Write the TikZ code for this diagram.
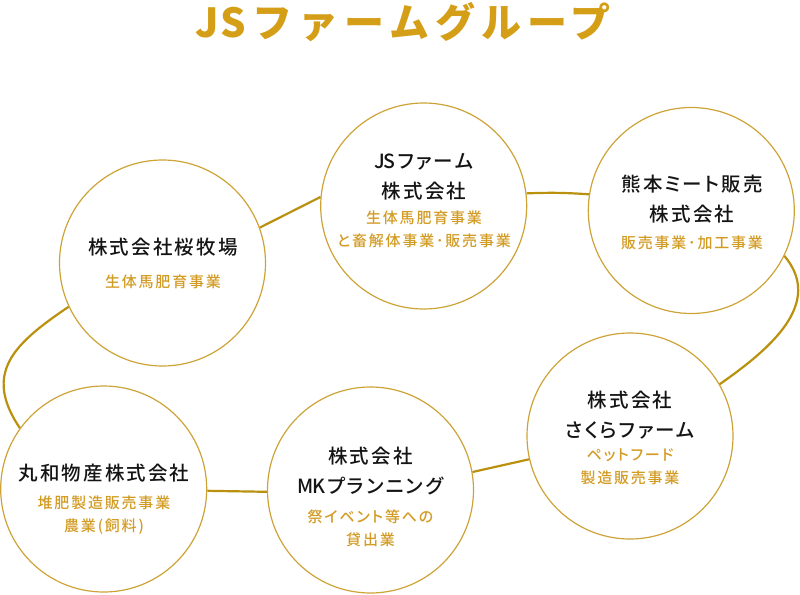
\documentclass[tikz,border=0pt]{standalone}
\usepackage{fontspec}
\usepackage{xcolor}
\newfontfamily\namefont{Noto Sans CJK JP Medium}[LetterSpace=11, RawFeature={+palt}]
\newfontfamily\bizfont{Noto Sans CJK JP Medium}[LetterSpace=12, RawFeature={+palt}]
\newfontfamily\titlefont{Noto Sans CJK JP}[LetterSpace=15]
\usetikzlibrary{positioning}
\definecolor{titlegold}{RGB}{212,158,22}
\definecolor{ringgold}{RGB}{205,163,55}
\definecolor{linegold}{RGB}{186,145,15}
\definecolor{bizgold}{RGB}{210,155,35}
\definecolor{namegray}{RGB}{20,20,20}

\begin{document}
\begin{tikzpicture}[
    x=1pt, y=-1pt,
    company/.style={circle, draw=ringgold, line width=1.2pt, minimum size=206pt, inner sep=0pt},
    compname/.style={inner sep=0pt, align=center, text=namegray, font={\namefont\fontsize{19.5}{29.5}\selectfont}},
    business/.style={inner sep=0pt, align=center, text=bizgold, font={\bizfont\fontsize{15}{23}\selectfont}},
    headline/.style={inner sep=0pt, text=titlegold, font={\titlefont\bfseries\fontsize{40}{44}\selectfont}},
    linkline/.style={draw=linegold, line width=2.2pt}
]
\useasboundingbox (0,0) rectangle (800,594);

% Title
\node[headline] (title) at (403,22) {J\kern2pt Sファームグループ};

% Upper row
\node[company] (ouboku) at (162.5,263) {};
\node[company] (jsfarm) at (423.7,206) {};
\node[company] (kumamoto) at (691.3,210.5) {};

% Lower row
\node[company] (sakura) at (630,436) {};
\node[company] (mk) at (370.5,490) {};
\node[company] (maruwa) at (103.7,489) {};

% Texts
\node[compname] (ouboku-name) at (163,247) {株式会社桜牧場};
\node[business] (ouboku-biz) at (163,282) {生体馬肥育事業};

\node[compname] (jsfarm-name) at (424,177) {J\kern-2pt Sファーム\\株式会社};
\node[business] (jsfarm-biz) at (424,229) {生体馬肥育事業\\と畜解体事業･販売事業};

\node[compname] (kumamoto-name) at (692,199) {熊本ミート販売\\株式会社};
\node[business] (kumamoto-biz) at (692,243) {販売事業･加工事業};

\node[compname] (sakura-name) at (630,415) {株式会社\\さくらファーム};
\node[business] (sakura-biz) at (630,467) {ペットフード\\製造販売事業};

\node[compname] (mk-name) at (370.5,471) {株式会社\\M\kern-2pt Kプランニング};
\node[business] (mk-biz) at (370.5,528) {祭イベント等への\\貸出業};

\node[compname] (maruwa-name) at (104,473) {丸和物産株式会社};
\node[business] (maruwa-biz) at (104,515) {堆肥製造販売事業\\農業(飼料)};

% Links
\draw[linkline] (ouboku.20) -- (jsfarm.175);
\draw[linkline] (jsfarm.7) to[bend left=3] (kumamoto.171);
\draw[linkline] (kumamoto.-26) to[out=-50, in=35, looseness=1.1] (sakura.30);
\draw[linkline] (sakura.193) -- (mk.10);
\draw[linkline] (mk.181) -- (maruwa.-1);
\draw[linkline] (ouboku.205) to[out=214, in=124, looseness=1.3] (maruwa.144);

\end{tikzpicture}
\end{document}
